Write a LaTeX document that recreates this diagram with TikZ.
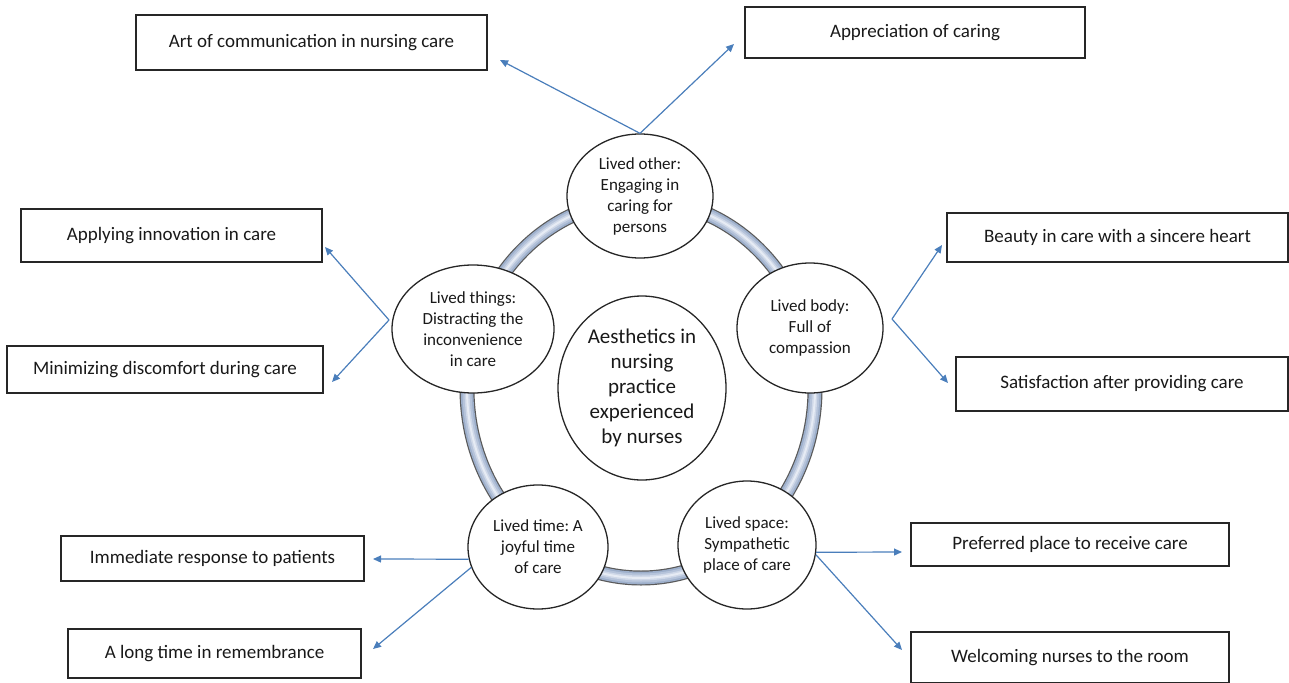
\documentclass[tikz,border=0pt]{standalone}
\usepackage{fontspec}
\setmainfont{Carlito}
\usepackage{tikz}
\usetikzlibrary{arrows.meta,shapes.geometric}

\definecolor{arrowblue}{HTML}{4A7EBB}
\definecolor{ringedge}{HTML}{9DAFCB}
\definecolor{ringblue}{HTML}{B5C3DA}
\definecolor{ringmid}{HTML}{CFD8E8}
\definecolor{ringlight}{HTML}{E6EBF4}
\frenchspacing

\begin{document}
\begin{tikzpicture}[x=1pt, y=-1pt,
    subtheme/.style={draw=black!85, line width=1.3pt, inner sep=0pt, text=black!90,
        font=\fontsize{19}{23}\selectfont},
    theme/.style={ellipse, draw=black!85, line width=1.3pt, fill=white, inner sep=0pt,
        align=center, text=black!90, font=\fontsize{17}{21}\selectfont},
    flow/.style={arrowblue, line width=1.2pt, -{Triangle[length=8pt,width=7pt]}}]
    \useasboundingbox (0,0) rectangle (1289,682);

    % ring joining the themes
    \draw[line width=15pt, black!65] (641,389) ellipse [x radius=174pt, y radius=189pt];
    \draw[line width=12.6pt, ringedge] (641,389) ellipse [x radius=174pt, y radius=189pt];
    \draw[line width=9pt, ringblue] (641,389) ellipse [x radius=174pt, y radius=189pt];
    \draw[line width=5pt, ringmid] (641,389) ellipse [x radius=174pt, y radius=189pt];
    \draw[line width=2pt, ringlight] (641,389) ellipse [x radius=174pt, y radius=189pt];

    % core and themes
    \node[theme, minimum width=168pt, minimum height=184pt,
        font=\fontsize{21}{25}\selectfont] (core) at (642,388)
        {Aesthetics in\\ nursing\\ practice\\ experienced\\ by nurses};
    \node[theme, minimum width=146pt, minimum height=124pt] (other) at (640,196)
        {Lived other:\\ Engaging in\\ caring for\\ persons};
    \node[theme, minimum width=162pt, minimum height=128pt] (things) at (473,329)
        {Lived things:\\ Distracting the\\ inconvenience\\ in care};
    \node[theme, minimum width=146pt, minimum height=130pt] (body) at (810,328)
        {Lived body:\\ Full of\\ compassion};
    \node[theme, minimum width=140pt, minimum height=124pt] (time) at (538,547)
        {Lived time: A\\ joyful time\\ of care};
    \node[theme, minimum width=138pt, minimum height=128pt] (space) at (747,545)
        {Lived space:\\ Sympathetic\\ place of care};

    % subthemes
    \node[subtheme, minimum width=351pt, minimum height=55pt] (artbox) at (311.5,42.5)
        {Art of communication in nursing care};
    \node[subtheme, minimum width=340pt, minimum height=51pt] (apprbox) at (915,32.5)
        {Appreciation of caring};
    \node[subtheme, minimum width=301pt, minimum height=53pt] (innovbox) at (171.5,235.5)
        {Applying innovation in care};
    \node[subtheme, minimum width=316pt, minimum height=47pt] (discbox) at (165,369.5)
        {Minimizing discomfort during care};
    \node[subtheme, minimum width=341pt, minimum height=49pt] (beautybox) at (1117.5,237.5)
        {Beauty in care with a sincere heart};
    \node[subtheme, minimum width=332pt, minimum height=54pt] (satisbox) at (1122,384)
        {Satisfaction after providing care};
    \node[subtheme, minimum width=303pt, minimum height=45pt] (immbox) at (212.5,558.5)
        {Immediate response to patients};
    \node[subtheme, minimum width=293pt, minimum height=49pt] (longbox) at (214.5,653.5)
        {A long time in remembrance};
    \node[subtheme, minimum width=318pt, minimum height=43pt] (prefbox) at (1070,544.5)
        {Preferred place to receive care};
    \node[subtheme, minimum width=318pt, minimum height=51pt] (welcbox) at (1070,657.5)
        {Welcoming nurses to the room};

    % arrow ends
    \coordinate (artend) at (500,60);
    \coordinate (apprend) at (734,44);
    \coordinate (leftfork) at (389,320);
    \coordinate (innovend) at (325,247);
    \coordinate (discend) at (332,382);
    \coordinate (rightfork) at (892,319);
    \coordinate (beautyend) at (942,245);
    \coordinate (satisend) at (948,383);
    \coordinate (immend) at (373,559);
    \coordinate (longend) at (373,649);
    \coordinate (prefend) at (902,552);
    \coordinate (welcend) at (902,650);

    % arrows
    \draw[flow] (other.north) -- (artend);
    \draw[flow] (other.north) -- (apprend);
    \draw[flow] (leftfork) -- (innovend);
    \draw[flow] (leftfork) -- (discend);
    \draw[flow] (rightfork) -- (beautyend);
    \draw[flow] (rightfork) -- (satisend);
    \draw[flow] (time.190) -- (immend);
    \draw[flow] (time.197) -- (longend);
    \draw[flow] (space.-6) -- (prefend);
    \draw[flow] (space.-8) -- (welcend);
\end{tikzpicture}
\end{document}
